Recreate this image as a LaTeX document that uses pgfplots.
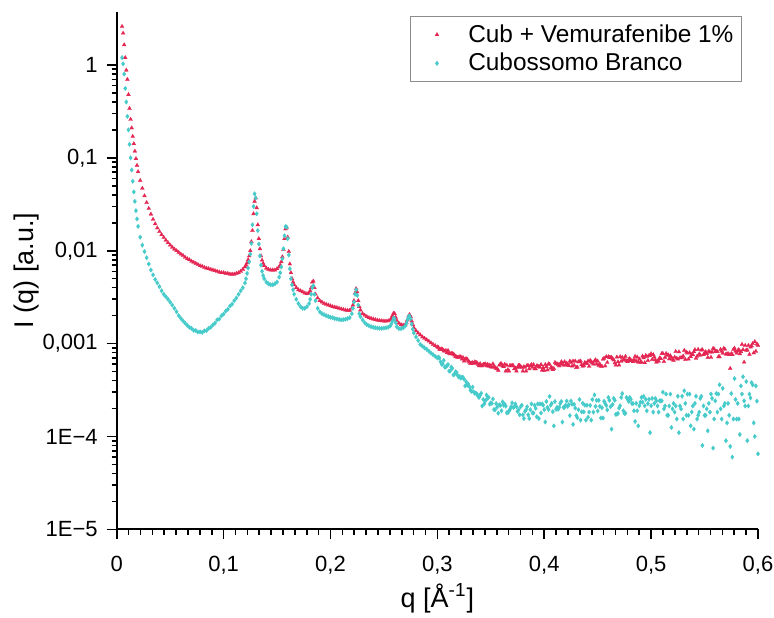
\documentclass[border=0pt]{standalone}
\usepackage{fontspec}
\setmainfont{Liberation Sans}
\usepackage{pgfplots}
\pgfplotsset{compat=1.18}
\definecolor{redc}{RGB}{228,38,82}
\definecolor{cyanc}{RGB}{70,202,202}
\pgfplotsset{mylegend/.style={legend image code/.code={\path[draw=none,fill=none] (0cm,-0.05cm) (0.88cm,0.05cm); \draw[##1] plot coordinates {(0.4cm,0cm)};}}}
\begin{document}
\begin{tikzpicture}
\begin{axis}[
  scale only axis, width=320.65pt, height=258.8pt,
  xmin=0, xmax=0.6, ymin=1e-5, ymax=3.75,
  ymode=log,
  axis x line*=bottom, axis y line*=left,
  axis line style={line width=1pt,-},
  tick align=outside,
  major tick length=5pt, minor tick length=2.6pt,
  every tick/.style={black, line width=0.8pt},
  xtick={0,0.1,0.2,0.3,0.4,0.5,0.6},
  xticklabels={0,{0,1},{0,2},{0,3},{0,4},{0,5},{0,6}},
  minor x tick num=8,
  ytick={1e-5,1e-4,1e-3,1e-2,1e-1,1},
  yticklabels={1E−5,1E−4,{0,001},{0,01},{0,1},1},
  ticklabel style={font=\fontsize{11}{13}\selectfont},
  xticklabel style={yshift=-5pt},
  yticklabel style={xshift=-1pt},
  xlabel={q [Å\textsuperscript{-1}]},
  ylabel={I (q) [a.u.]},
  x label style={at={(axis description cs:0.5,0)}, anchor=center, yshift=-34.5pt, font=\fontsize{13.5}{15}\selectfont},
  y label style={at={(axis description cs:-0.1403,0.5)}, anchor=center, font=\fontsize{13.5}{15}\selectfont},
  legend style={at={(0.975,0.992)}, anchor=north east, draw=black!45, line width=0.5pt,
    font=\fontsize{12.2}{14}\selectfont, inner sep=2pt, cells={anchor=west}},
]
\addplot[only marks, mark=triangle*, mark size=1.15pt, mark options={fill=redc, draw=redc, line width=0.1pt}, mylegend] table {
x y
0.005 2.6
0.006 2.2
0.007 1.65
0.008 1.2
0.009 0.88
0.010 0.70
0.011 0.48
0.012 0.34
0.013 0.26
0.014 0.21
0.015 0.17
0.016 0.142
0.017 0.118
0.018 0.098
0.019 0.083
0.020 0.071
0.022 0.057
0.024 0.047
0.026 0.039
0.028 0.033
0.030 0.0285
0.032 0.0248
0.034 0.0218
0.036 0.0195
0.038 0.0176
0.040 0.0161
0.042 0.0149
0.044 0.0139
0.046 0.0130
0.048 0.0122
0.050 0.0115
0.052 0.0109
0.054 0.0104
0.056 0.0100
0.058 0.0096
0.060 0.0092
0.062 0.0089
0.064 0.0085
0.066 0.0082
0.068 0.0080
0.070 0.0077
0.072 0.0075
0.074 0.0073
0.076 0.0071
0.078 0.0069
0.080 0.0068
0.082 0.0066
0.084 0.0065
0.086 0.0064
0.088 0.0063
0.090 0.0062
0.092 0.0061
0.094 0.0060
0.096 0.0059
0.098 0.0058
0.100 0.0058
0.102 0.0057
0.104 0.0057
0.106 0.0056
0.108 0.0056
0.110 0.0056
0.112 0.0057
0.114 0.0058
0.116 0.0060
0.118 0.0063
0.120 0.0067
0.121 0.0070
0.122 0.0074
0.123 0.0080
0.124 0.0088
0.125 0.0100
0.126 0.0125
0.127 0.0165
0.128 0.025
0.129 0.034
0.130 0.037
0.131 0.029
0.132 0.019
0.133 0.0135
0.134 0.0105
0.135 0.0088
0.136 0.0079
0.137 0.0073
0.138 0.0069
0.140 0.0065
0.142 0.0063
0.144 0.0062
0.146 0.0062
0.148 0.0062
0.150 0.0064
0.152 0.0067
0.153 0.0070
0.154 0.0076
0.155 0.0086
0.156 0.0103
0.157 0.0135
0.158 0.0172
0.159 0.0178
0.160 0.0140
0.161 0.0098
0.162 0.0072
0.163 0.0058
0.164 0.0050
0.165 0.0046
0.166 0.0043
0.168 0.0040
0.170 0.0038
0.172 0.0037
0.174 0.0036
0.176 0.0035
0.178 0.00345
0.180 0.0035
0.181 0.0037
0.182 0.0040
0.183 0.0046
0.184 0.0047
0.185 0.0040
0.186 0.0034
0.188 0.0031
0.190 0.0029
0.192 0.0028
0.194 0.0027
0.196 0.00265
0.198 0.0026
0.200 0.00255
0.202 0.0025
0.204 0.00247
0.206 0.00244
0.208 0.0024
0.210 0.00236
0.212 0.00233
0.214 0.0023
0.216 0.00228
0.218 0.00228
0.220 0.0024
0.221 0.0026
0.222 0.0029
0.223 0.0035
0.224 0.0039
0.225 0.0036
0.226 0.0029
0.227 0.0025
0.228 0.0023
0.230 0.0021
0.232 0.00202
0.234 0.00195
0.236 0.0019
0.238 0.00187
0.240 0.00184
0.242 0.00181
0.244 0.00179
0.246 0.00177
0.248 0.00176
0.250 0.00175
0.252 0.00175
0.254 0.00176
0.256 0.0018
0.257 0.00187
0.258 0.0020
0.259 0.00212
0.260 0.0021
0.261 0.00192
0.262 0.00177
0.264 0.00166
0.266 0.0016
0.268 0.00158
0.270 0.0016
0.271 0.00168
0.272 0.0018
0.273 0.00198
0.274 0.00205
0.275 0.00195
0.276 0.00175
0.277 0.0016
0.278 0.00148
0.280 0.00138
0.282 0.0013
0.284 0.00124
0.286 0.00118
0.288 0.00114
0.290 0.0011
0.292 0.00106
0.294 0.00102
0.296 0.00098
0.298 0.00095
0.300 0.00092
0.302 8.72e-4
0.304 8.76e-4
0.306 8.33e-4
0.308 8.43e-4
0.310 8.42e-4
0.312 7.73e-4
0.314 7.80e-4
0.316 7.53e-4
0.318 7.20e-4
0.320 7.13e-4
0.322 7.22e-4
0.324 7.07e-4
0.326 6.85e-4
0.328 6.76e-4
0.330 6.32e-4
0.332 6.16e-4
0.334 6.12e-4
0.336 6.29e-4
0.338 5.97e-4
0.340 6.08e-4
0.342 5.77e-4
0.344 5.98e-4
0.346 5.77e-4
0.348 5.72e-4
0.350 5.63e-4
0.352 6.05e-4
0.354 5.55e-4
0.356 5.35e-4
0.358 5.85e-4
0.360 6.05e-4
0.362 5.65e-4
0.364 5.06e-4
0.366 5.25e-4
0.368 5.84e-4
0.370 5.84e-4
0.372 5.35e-4
0.374 5.06e-4
0.376 5.83e-4
0.378 5.64e-4
0.380 5.06e-4
0.382 5.55e-4
0.384 5.83e-4
0.386 5.35e-4
0.388 5.94e-4
0.390 5.94e-4
0.392 5.35e-4
0.394 5.75e-4
0.396 5.55e-4
0.398 5.16e-4
0.400 5.15e-4
0.402 5.65e-4
0.404 6.05e-4
0.406 5.44e-4
0.408 5.24e-4
0.410 6.26e-4
0.412 6.06e-4
0.414 5.75e-4
0.416 6.37e-4
0.418 5.85e-4
0.420 5.85e-4
0.422 5.95e-4
0.424 6.48e-4
0.426 5.73e-4
0.428 5.84e-4
0.430 5.52e-4
0.432 6.37e-4
0.434 6.48e-4
0.436 5.72e-4
0.438 6.26e-4
0.440 6.14e-4
0.442 5.70e-4
0.444 6.36e-4
0.446 6.02e-4
0.448 6.69e-4
0.450 6.47e-4
0.452 6.01e-4
0.454 5.70e-4
0.456 6.95e-4
0.458 7.22e-4
0.460 7.22e-4
0.462 7.06e-4
0.464 6.84e-4
0.466 6.19e-4
0.468 7.17e-4
0.470 5.87e-4
0.472 6.45e-4
0.474 6.62e-4
0.476 7.28e-4
0.478 6.38e-4
0.480 6.88e-4
0.482 6.55e-4
0.484 6.72e-4
0.486 6.47e-4
0.488 6.31e-4
0.490 6.31e-4
0.492 7.33e-4
0.494 6.23e-4
0.496 7.26e-4
0.498 7.43e-4
0.500 7.77e-4
0.502 7.60e-4
0.504 6.66e-4
0.506 6.49e-4
0.508 7.02e-4
0.510 7.82e-4
0.512 6.41e-4
0.514 7.82e-4
0.516 7.57e-4
0.518 7.39e-4
0.520 6.76e-4
0.522 7.13e-4
0.524 6.94e-4
0.526 8.15e-4
0.528 7.03e-4
0.530 7.32e-4
0.532 6.76e-4
0.534 7.88e-4
0.536 7.98e-4
0.538 7.61e-4
0.540 8.18e-4
0.542 6.94e-4
0.544 8.66e-4
0.546 7.51e-4
0.548 8.58e-4
0.550 7.80e-4
0.552 7.80e-4
0.554 8.30e-4
0.556 7.12e-4
0.558 8.88e-4
0.560 8.20e-4
0.562 8.20e-4
0.564 7.21e-4
0.566 8.30e-4
0.568 8.90e-4
0.570 7.69e-4
0.572 7.79e-4
0.574 5.40e-4
0.576 7.59e-4
0.578 8.92e-4
0.580 7.88e-4
0.582 8.60e-4
0.584 8.19e-4
0.585 9.80e-4
0.586 8.60e-4
0.587 6.30e-4
0.588 9.55e-4
0.590 8.50e-4
0.592 7.65e-4
0.594 9.45e-4
0.595 1.00e-3
0.596 7.95e-4
0.597 1.05e-3
0.598 8.26e-4
0.599 9.90e-4
0.600 9.56e-4
0.301 9.06e-4
0.303 8.62e-4
0.305 8.67e-4
0.307 8.31e-4
0.309 7.99e-4
0.311 7.89e-4
0.313 7.83e-4
0.315 7.70e-4
0.317 7.24e-4
0.319 7.10e-4
0.321 7.21e-4
0.323 6.81e-4
0.325 6.48e-4
0.327 6.86e-4
0.329 6.48e-4
0.331 6.10e-4
0.333 6.22e-4
0.335 6.34e-4
0.337 6.24e-4
0.339 5.76e-4
0.341 5.76e-4
0.343 5.98e-4
0.345 6.03e-4
0.347 5.98e-4
0.349 5.88e-4
0.351 5.57e-4
0.353 5.65e-4
0.355 5.40e-4
0.357 5.15e-4
0.359 6.05e-4
0.361 5.75e-4
0.363 5.99e-4
0.365 5.84e-4
0.367 5.06e-4
0.369 5.75e-4
0.371 5.79e-4
0.373 5.45e-4
0.375 5.54e-4
0.377 5.83e-4
0.379 5.54e-4
0.381 5.64e-4
0.383 5.06e-4
0.385 5.79e-4
0.387 5.75e-4
0.389 5.55e-4
0.391 5.35e-4
0.393 5.75e-4
0.395 5.65e-4
0.397 5.94e-4
0.399 5.50e-4
0.401 5.95e-4
0.403 5.20e-4
0.405 5.96e-4
0.407 5.55e-4
0.409 5.39e-4
0.411 6.06e-4
0.413 5.95e-4
0.415 6.00e-4
0.417 6.16e-4
0.419 6.37e-4
0.421 6.16e-4
0.423 5.79e-4
0.425 6.27e-4
0.427 6.48e-4
0.429 6.48e-4
0.431 5.57e-4
0.433 6.37e-4
0.435 5.94e-4
0.437 5.83e-4
0.439 6.10e-4
0.441 6.48e-4
0.443 6.59e-4
0.445 6.19e-4
0.447 6.47e-4
0.449 6.02e-4
0.451 5.80e-4
0.453 5.70e-4
0.455 6.80e-4
0.457 5.74e-4
0.459 6.26e-4
0.461 7.06e-4
0.463 7.11e-4
0.465 6.68e-4
0.467 5.87e-4
0.469 6.36e-4
0.471 7.22e-4
0.473 7.11e-4
0.475 6.78e-4
0.477 6.50e-4
0.479 6.72e-4
0.481 6.55e-4
0.483 6.38e-4
0.485 7.27e-4
0.487 7.15e-4
0.489 6.82e-4
0.491 6.31e-4
0.493 7.03e-4
0.495 7.43e-4
0.497 6.57e-4
0.499 7.43e-4
0.501 6.74e-4
0.503 7.14e-4
0.505 6.32e-4
0.507 6.49e-4
0.509 6.89e-4
0.511 7.82e-4
0.513 7.11e-4
0.515 7.51e-4
0.517 6.85e-4
0.519 7.08e-4
0.521 6.59e-4
0.523 8.21e-4
0.525 6.81e-4
0.527 7.04e-4
0.529 7.09e-4
0.531 8.44e-4
0.533 8.07e-4
0.535 6.81e-4
0.537 7.23e-4
0.539 7.61e-4
0.541 8.60e-4
0.543 7.32e-4
0.545 7.71e-4
0.547 8.52e-4
0.549 7.61e-4
0.551 8.19e-4
0.553 7.08e-4
0.555 8.10e-4
0.557 8.10e-4
0.559 8.74e-4
0.561 8.20e-4
0.563 7.21e-4
0.565 8.65e-4
0.567 7.90e-4
0.569 8.71e-4
0.571 7.74e-4
0.573 7.59e-4
0.575 7.79e-4
0.577 8.65e-4
0.579 8.30e-4
0.581 8.35e-4
0.583 7.77e-4
0.589 8.50e-4
0.591 9.55e-4
0.593 9.18e-4
};
\addlegendentry{Cub + Vemurafenibe 1\%}
\addplot[only marks, mark=diamond*, mark size=1.15pt, mark options={fill=cyanc, draw=cyanc, line width=0.1pt}, mylegend] table {
x y
0.005 1.2
0.006 1.03
0.007 0.80
0.008 0.56
0.009 0.40
0.010 0.28
0.011 0.20
0.012 0.14
0.013 0.100
0.014 0.074
0.015 0.056
0.016 0.043
0.017 0.034
0.018 0.027
0.019 0.022
0.020 0.0183
0.022 0.0140
0.024 0.0115
0.026 0.0098
0.028 0.0084
0.030 0.0072
0.032 0.0062
0.034 0.0055
0.036 0.0049
0.038 0.0045
0.040 0.0041
0.042 0.0037
0.044 0.0034
0.046 0.0032
0.048 0.0030
0.050 0.0028
0.052 0.0026
0.054 0.0024
0.056 0.0022
0.058 0.0020
0.060 0.00187
0.062 0.00176
0.064 0.00166
0.066 0.00157
0.068 0.00150
0.070 0.00146
0.072 0.00139
0.074 0.00138
0.076 0.00133
0.078 0.00134
0.080 0.00132
0.082 0.00137
0.084 0.00138
0.086 0.00146
0.088 0.00150
0.090 0.00159
0.092 0.00166
0.094 0.00180
0.096 0.00184
0.098 0.00199
0.100 0.00208
0.102 0.00224
0.104 0.00234
0.106 0.00254
0.108 0.00266
0.110 0.0029
0.112 0.0031
0.114 0.0034
0.116 0.0037
0.118 0.0040
0.120 0.0045
0.121 0.0050
0.122 0.0057
0.123 0.0065
0.124 0.0076
0.125 0.0092
0.126 0.0120
0.127 0.019
0.128 0.030
0.129 0.041
0.130 0.037
0.131 0.025
0.132 0.0165
0.133 0.0118
0.134 0.0088
0.135 0.0070
0.136 0.0060
0.137 0.0054
0.138 0.0050
0.140 0.0046
0.142 0.0044
0.144 0.0043
0.146 0.0043
0.148 0.0044
0.150 0.0046
0.152 0.0052
0.153 0.0058
0.154 0.0067
0.155 0.0082
0.156 0.0105
0.157 0.0145
0.158 0.0182
0.159 0.0180
0.160 0.0135
0.161 0.0090
0.162 0.0064
0.163 0.0050
0.164 0.0043
0.165 0.0038
0.166 0.0034
0.168 0.0030
0.170 0.0027
0.172 0.0025
0.174 0.0024
0.176 0.0024
0.178 0.0025
0.180 0.0027
0.181 0.0030
0.182 0.0034
0.183 0.0040
0.184 0.0042
0.185 0.0034
0.186 0.0029
0.188 0.0024
0.190 0.0022
0.192 0.0021
0.194 0.00205
0.196 0.0020
0.198 0.00196
0.200 0.00192
0.202 0.0019
0.204 0.00186
0.206 0.00184
0.208 0.00182
0.210 0.0018
0.212 0.00181
0.214 0.00183
0.216 0.00186
0.218 0.0019
0.220 0.0021
0.221 0.0024
0.222 0.0028
0.223 0.0034
0.224 0.0038
0.225 0.0033
0.226 0.0026
0.227 0.0021
0.228 0.00195
0.230 0.0018
0.232 0.00168
0.234 0.0016
0.236 0.00156
0.238 0.00152
0.240 0.0015
0.242 0.00148
0.244 0.00147
0.246 0.00146
0.248 0.00146
0.250 0.00147
0.252 0.00148
0.254 0.0015
0.256 0.00155
0.257 0.00163
0.258 0.00175
0.259 0.00188
0.260 0.00185
0.261 0.00168
0.262 0.00152
0.264 0.00145
0.266 0.00145
0.268 0.00148
0.270 0.00155
0.271 0.00165
0.272 0.0018
0.273 0.00195
0.274 0.00198
0.275 0.00185
0.276 0.00162
0.277 0.00143
0.278 0.0013
0.280 0.00118
0.282 0.00108
0.284 0.00098
0.286 0.00094
0.288 0.0009
0.290 0.00087
0.292 0.00083
0.294 0.00079
0.296 0.00076
0.298 0.00073
0.300 0.00070
0.302 7.0e-4
0.304 6.0e-4
0.306 6.6e-4
0.308 5.6e-4
0.310 5.95e-4
0.312 5.07e-4
0.314 5.42e-4
0.316 4.68e-4
0.318 4.89e-4
0.320 4.36e-4
0.322 4.24e-4
0.324 4.32e-4
0.326 3.50e-4
0.328 3.57e-4
0.330 3.43e-4
0.332 3.06e-4
0.334 3.02e-4
0.336 2.93e-4
0.338 2.72e-4
0.340 2.77e-4
0.342 2.13e-4
0.344 2.25e-4
0.346 2.79e-4
0.348 2.64e-4
0.350 2.30e-4
0.352 2.53e-4
0.354 1.94e-4
0.356 2.07e-4
0.358 2.19e-4
0.360 1.89e-4
0.362 2.17e-4
0.364 2.12e-4
0.366 1.80e-4
0.368 1.96e-4
0.370 2.30e-4
0.372 2.09e-4
0.374 2.09e-4
0.376 1.94e-4
0.378 2.09e-4
0.380 1.71e-4
0.382 1.86e-4
0.384 2.09e-4
0.386 1.56e-4
0.388 2.24e-4
0.390 1.79e-4
0.392 2.01e-4
0.394 2.24e-4
0.396 2.24e-4
0.398 2.24e-4
0.400 1.94e-4
0.402 2.38e-4
0.404 1.95e-4
0.405 2.7e-4
0.406 2.17e-4
0.408 1.85e-4
0.409 1.3e-4
0.410 2.38e-4
0.412 2.06e-4
0.414 2.06e-4
0.416 2.38e-4
0.418 2.06e-4
0.420 2.17e-4
0.422 2.11e-4
0.424 1.68e-4
0.426 2.22e-4
0.427 1.35e-4
0.428 2.22e-4
0.430 1.68e-4
0.432 1.94e-4
0.434 1.50e-4
0.436 2.28e-4
0.438 2.17e-4
0.440 2.17e-4
0.442 1.83e-4
0.444 1.50e-4
0.446 1.83e-4
0.447 2.8e-4
0.448 2.11e-4
0.450 1.88e-4
0.452 2.11e-4
0.454 2.04e-4
0.456 2.39e-4
0.458 2.16e-4
0.460 2.63e-4
0.462 2.09e-4
0.463 1.2e-4
0.464 2.21e-4
0.466 2.45e-4
0.468 1.74e-4
0.470 2.02e-4
0.472 2.63e-4
0.473 2.9e-4
0.474 1.89e-4
0.476 1.78e-4
0.478 2.51e-4
0.480 2.63e-4
0.482 2.27e-4
0.484 1.89e-4
0.485 1.45e-4
0.486 2.27e-4
0.488 1.30e-4
0.490 2.34e-4
0.492 2.34e-4
0.493 2.7e-4
0.494 2.14e-4
0.496 1.89e-4
0.498 2.51e-4
0.499 1.1e-4
0.500 2.14e-4
0.502 1.83e-4
0.504 2.57e-4
0.506 2.13e-4
0.508 2.42e-4
0.510 2.42e-4
0.511 3.0e-4
0.512 1.98e-4
0.514 2.86e-4
0.516 1.69e-4
0.518 2.86e-4
0.519 1.25e-4
0.520 1.98e-4
0.522 1.83e-4
0.524 1.54e-4
0.526 1.10e-4
0.528 1.98e-4
0.530 1.54e-4
0.531 3.1e-4
0.532 2.27e-4
0.534 2.86e-4
0.536 2.86e-4
0.537 1.3e-4
0.538 1.83e-4
0.540 1.20e-4
0.542 2.71e-4
0.544 1.69e-4
0.546 2.57e-4
0.548 8.0e-5
0.550 1.69e-4
0.552 1.98e-4
0.553 1.15e-4
0.554 2.27e-4
0.556 2.86e-4
0.558 7.5e-5
0.560 2.42e-4
0.561 2.9e-4
0.562 1.83e-4
0.564 3.6e-4
0.566 1.54e-4
0.567 3.3e-4
0.568 2.13e-4
0.570 9.0e-5
0.571 1.4e-4
0.572 2.27e-4
0.574 7.8e-5
0.576 6.0e-5
0.578 4.2e-4
0.579 2.5e-4
0.580 1.54e-4
0.582 1.54e-4
0.583 1.05e-4
0.584 3.5e-4
0.586 4.4e-4
0.588 2.13e-4
0.589 3.9e-4
0.590 9.0e-5
0.592 2.86e-4
0.593 2.6e-4
0.594 3.8e-4
0.595 3.6e-4
0.596 1.4e-4
0.597 1.0e-4
0.598 3.5e-4
0.599 2.4e-4
0.600 6.5e-5
0.301 7.16e-4
0.303 6.37e-4
0.305 6.02e-4
0.307 5.57e-4
0.309 5.80e-4
0.311 5.06e-4
0.313 5.58e-4
0.315 4.60e-4
0.317 4.96e-4
0.319 4.54e-4
0.321 4.41e-4
0.323 4.36e-4
0.325 4.14e-4
0.327 3.87e-4
0.329 3.66e-4
0.331 3.15e-4
0.333 3.40e-4
0.335 2.92e-4
0.337 2.87e-4
0.339 2.63e-4
0.341 2.92e-4
0.343 2.50e-4
0.345 2.43e-4
0.347 2.57e-4
0.349 2.23e-4
0.351 2.27e-4
0.353 1.95e-4
0.355 2.26e-4
0.357 1.78e-4
0.359 2.16e-4
0.361 2.36e-4
0.363 2.23e-4
0.365 1.80e-4
0.367 1.88e-4
0.369 2.09e-4
0.371 2.05e-4
0.373 2.24e-4
0.375 1.86e-4
0.377 1.71e-4
0.379 2.17e-4
0.381 1.56e-4
0.383 1.94e-4
0.385 1.71e-4
0.387 1.94e-4
0.389 1.79e-4
0.391 2.17e-4
0.393 1.63e-4
0.395 1.56e-4
0.397 1.79e-4
0.399 2.17e-4
0.401 1.43e-4
0.403 2.06e-4
0.407 2.27e-4
0.411 1.96e-4
0.413 1.96e-4
0.415 2.27e-4
0.417 1.43e-4
0.419 2.06e-4
0.421 2.41e-4
0.423 2.20e-4
0.425 2.41e-4
0.429 2.02e-4
0.431 1.59e-4
0.433 2.50e-4
0.435 1.84e-4
0.437 1.84e-4
0.439 1.50e-4
0.441 1.61e-4
0.443 2.16e-4
0.445 2.50e-4
0.449 2.45e-4
0.451 2.45e-4
0.453 1.58e-4
0.455 1.58e-4
0.457 2.27e-4
0.459 1.93e-4
0.461 2.45e-4
0.465 2.57e-4
0.467 1.73e-4
0.469 1.77e-4
0.471 2.14e-4
0.475 1.77e-4
0.477 2.63e-4
0.479 2.38e-4
0.481 2.51e-4
0.483 2.26e-4
0.487 1.89e-4
0.489 2.14e-4
0.491 2.63e-4
0.495 2.51e-4
0.497 2.26e-4
0.501 2.57e-4
0.503 2.27e-4
0.505 2.42e-4
0.507 1.83e-4
0.509 2.42e-4
0.513 2.13e-4
0.515 1.69e-4
0.517 2.13e-4
0.521 2.27e-4
0.523 2.13e-4
0.525 2.71e-4
0.527 2.13e-4
0.529 2.71e-4
0.533 1.69e-4
0.535 1.69e-4
0.539 2.13e-4
0.541 2.27e-4
0.543 1.54e-4
0.545 1.83e-4
0.547 2.71e-4
0.549 2.13e-4
0.551 1.69e-4
0.555 1.83e-4
0.557 2.57e-4
0.559 1.54e-4
0.563 2.86e-4
0.565 1.98e-4
0.569 2.27e-4
0.573 1.69e-4
0.575 2.9e-4
0.577 1.54e-4
0.581 2.27e-4
0.585 2.86e-4
0.587 2.42e-4
0.591 2.13e-4
};
\addlegendentry{Cubossomo Branco}
\end{axis}
\pgfresetboundingbox
\path (-58.35pt,-43.85pt) rectangle (328.65pt,264.65pt);
\end{tikzpicture}
\end{document}
